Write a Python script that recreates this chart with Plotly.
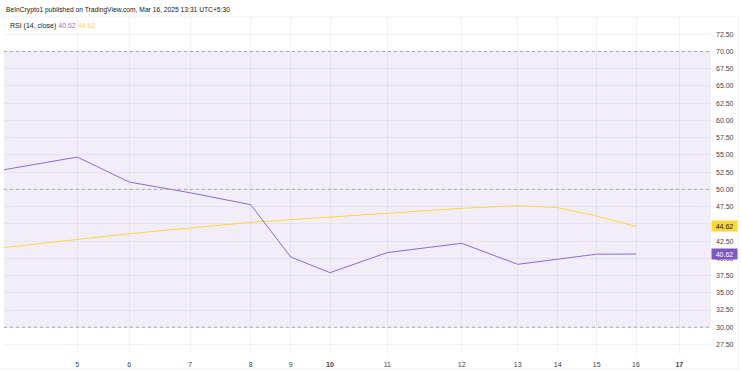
import plotly.graph_objects as go

# ---- data ----
# position of each bar along the time axis (chart units) and matching day labels
bar_pos = [0, 73.3, 125.3, 186.3, 246.7, 286.7, 326, 383.3, 457.7, 513.7, 553.7, 592.7, 632]
rsi = [52.85, 54.68, 51.06, 49.5, 47.78, 40.19, 37.92, 40.83, 42.17, 39.13, 39.87, 40.6, 40.62]
rsi_ma = [41.55, 42.75, 43.57, 44.4, 45.22, 45.6, 45.99, 46.57, 47.25, 47.63, 47.35, 46.14, 44.62]

tick_pos = [73.3, 125.3, 186.3, 246.7, 286.7, 326, 383.3, 457.7, 513.7, 553.7, 592.7, 632, 675.3]
tick_days = ["5", "6", "7", "8", "9", "10", "11", "12", "13", "14", "15", "16", "17"]
bold_days = ["10", "17"]

y_ticks = [27.5, 30, 32.5, 35, 37.5, 40, 42.5, 45, 47.5, 50, 52.5, 55, 57.5, 60, 62.5, 65, 67.5, 70, 72.5]
hidden_y_labels = [45]  # covered by the last-value marker in the reference
band = (30, 70)
levels = [30, 50, 70]
rsi_last = "40.62"
ma_last = "44.62"

header = "BeInCrypto1 published on TradingView.com, Mar 16, 2025 13:31 UTC+5:30"

PURPLE = "#7e57c2"
PURPLE_LINE = "#8c6bcf"
YELLOW = "#fdd835"
YELLOW_LINE = "#fbd63f"
FONT = "Liberation Sans"
TXT = "#131722"
AXIS_TXT = "#3b3f4a"

fig = go.Figure()
fig.add_trace(go.Scatter(x=bar_pos, y=rsi_ma, mode="lines",
                         line=dict(color=YELLOW_LINE, width=1), hoverinfo="skip"))
fig.add_trace(go.Scatter(x=bar_pos, y=rsi, mode="lines",
                         line=dict(color=PURPLE_LINE, width=1), hoverinfo="skip"))

shapes = []
shapes.append(dict(type="rect", xref="x domain", yref="y", x0=0, x1=1, y0=band[0], y1=band[1],
                   fillcolor="rgba(126,87,194,0.1)", line=dict(width=0), layer="below"))
for lv in levels:
    shapes.append(dict(type="line", xref="x domain", yref="y", x0=0, x1=1, y0=lv, y1=lv,
                       line=dict(color="#a3a6af", width=1, dash="3px,3px"), layer="above"))
# frame lines
fx1 = (738 - 4) / 707
fy0 = -(369 - 354) / 336.7
frame = "#eef0f4"
shapes.append(dict(type="line", xref="paper", yref="paper", x0=-0.006, x1=fx1, y0=1, y1=1,
                   line=dict(color=frame, width=1)))
shapes.append(dict(type="line", xref="paper", yref="paper", x0=fx1, x1=fx1, y0=fy0, y1=1,
                   line=dict(color=frame, width=1)))
shapes.append(dict(type="line", xref="paper", yref="paper", x0=-0.006, x1=fx1, y0=fy0, y1=fy0,
                   line=dict(color=frame, width=1)))

annotations = [
    dict(xref="paper", yref="paper", x=0, y=1 + 7.3 / 336.7, xanchor="left", yanchor="middle",
         text=header, showarrow=False, font=dict(family=FONT, size=6.7, color=TXT)),
    dict(xref="paper", yref="paper", x=(8 - 4) / 707, y=1 - 8.7 / 336.7, xanchor="left", yanchor="middle",
         text=("RSI (14, close) <span style='color:%s'>%s</span> <span style='color:%s'>%s</span>"
               % ("#9575cd", rsi_last, "#f9d55a", ma_last)),
         showarrow=False, font=dict(family=FONT, size=7, color=TXT)),
    dict(xref="paper", yref="y", x=1, y=rsi_ma[-1], xanchor="left", yanchor="middle",
         text=ma_last, showarrow=False, bgcolor=YELLOW, borderpad=1.5,
         font=dict(family=FONT, size=7, color=TXT), width=22),
    dict(xref="paper", yref="y", x=1, y=rsi[-1], xanchor="left", yanchor="middle",
         text=rsi_last, showarrow=False, bgcolor=PURPLE, borderpad=1.5,
         font=dict(family=FONT, size=7, color="white"), width=22),
]

fig.update_layout(
    width=742, height=372,
    margin=dict(l=4, r=31, t=17, b=18),
    paper_bgcolor="white", plot_bgcolor="white",
    showlegend=False,
    shapes=shapes, annotations=annotations,
    font=dict(family=FONT, size=7, color=TXT),
    xaxis=dict(range=[0, 707], tickmode="array", tickvals=tick_pos,
               ticktext=[("<b>%s</b>" % d) if d in bold_days else d for d in tick_days],
               showgrid=True, gridcolor="rgba(42,46,57,0.06)", gridwidth=1,
               zeroline=False, showline=False, ticks="", ticklabelstandoff=5,
               tickfont=dict(family=FONT, size=7, color=AXIS_TXT)),
    yaxis=dict(range=[26.12, 75.0], side="right", tickmode="array", tickvals=y_ticks,
               ticktext=["" if v in hidden_y_labels else "%.2f" % v for v in y_ticks],
               showgrid=True, gridcolor="rgba(42,46,57,0.06)", gridwidth=1,
               zeroline=False, showline=False, ticks="", ticklabelstandoff=4,
               tickfont=dict(family=FONT, size=7, color=AXIS_TXT)),
)

fig.write_html("out.html", config={"displayModeBar": False},
               post_script="document.body.style.margin='0';document.body.style.overflow='hidden';")
